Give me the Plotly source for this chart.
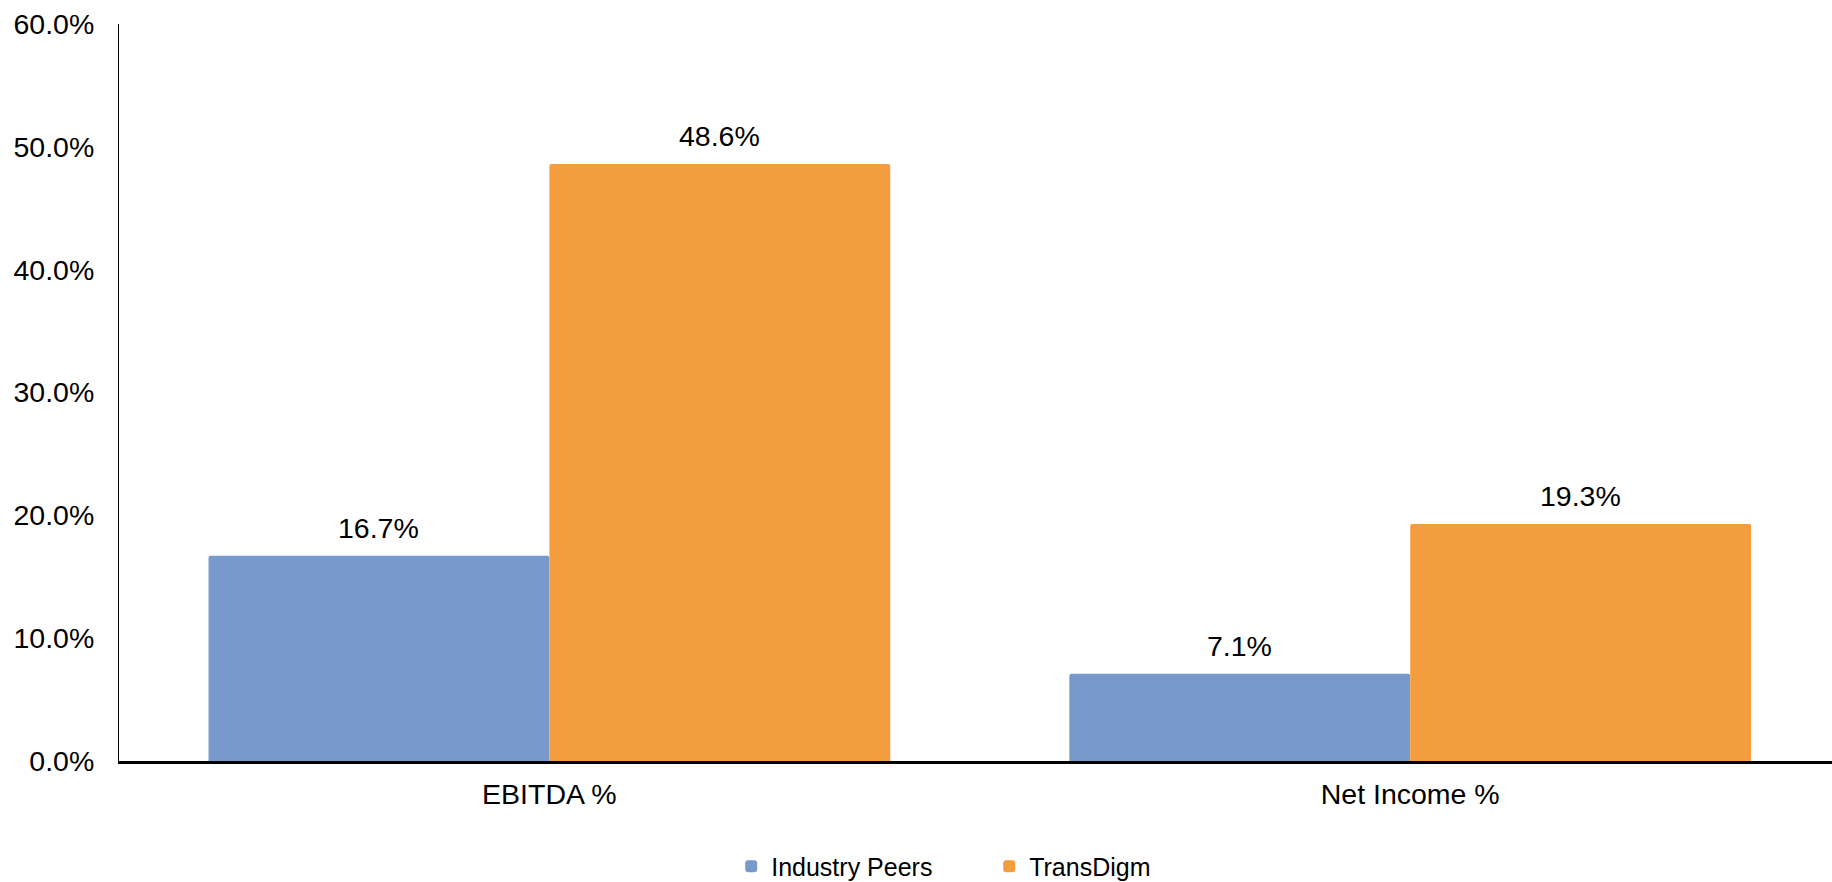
import plotly.graph_objects as go

categories = ["EBITDA %", "Net Income %"]
series_names = ["Industry Peers", "TransDigm"]
industry_peers = [16.7, 7.1]
transdigm = [48.6, 19.3]
y_ticks = [0, 10, 20, 30, 40, 50, 60]
y_tick_labels = ["0.0%", "10.0%", "20.0%", "30.0%", "40.0%", "50.0%", "60.0%"]

colors = ["#7799CC", "#F49D3E"]
FONT = "Liberation Sans, Arial, Helvetica, sans-serif"
FS = 28.5
BARGAP = 0.208

fig = go.Figure()
for name, vals, col in zip(series_names, [industry_peers, transdigm], colors):
    fig.add_trace(go.Bar(
        x=categories, y=vals, name=name,
        marker=dict(color=col, line=dict(width=0), cornerradius=2),
        hoverinfo="x+y+name",
    ))

# value labels above bars
offset = (1 - BARGAP) / 4
for si, vals in enumerate([industry_peers, transdigm]):
    for ci, v in enumerate(vals):
        fig.add_annotation(
            x=ci + (-offset if si == 0 else offset), y=v,
            xref="x", yref="y", text=f"{v:.1f}%",
            showarrow=False, yanchor="bottom", yshift=10,
            font=dict(family=FONT, size=FS, color="#000000"),
        )

fig.update_layout(
    width=1832, height=882,
    margin=dict(l=119, r=0, t=24, b=121, autoexpand=False),
    paper_bgcolor="white", plot_bgcolor="white",
    barmode="group", bargap=BARGAP, bargroupgap=0,
    font=dict(family=FONT, size=FS, color="#000000"),
    showlegend=True,
    legend=dict(
        orientation="h", x=0.508, xanchor="center", y=-0.143, yanchor="middle",
        font=dict(family=FONT, size=25, color="#000000"),
        bgcolor="rgba(0,0,0,0)", entrywidth=213,
    ),
)
fig.update_xaxes(
    type="category", range=[-0.5, 1.49],
    showline=True, linecolor="#000000", linewidth=3,
    showgrid=False, zeroline=False,
    ticks="outside", ticklen=6, tickcolor="rgba(0,0,0,0)",
    tickfont=dict(family=FONT, size=FS, color="#000000"),
)
fig.update_yaxes(
    range=[0, 60], tickvals=y_ticks, ticktext=y_tick_labels,
    showline=True, linecolor="#000000", linewidth=1,
    showgrid=False, zeroline=False,
    ticks="outside", ticklen=18, tickcolor="rgba(0,0,0,0)",
    tickfont=dict(family=FONT, size=FS, color="#000000"),
)

fig.write_html(
    "out.html",
    config={"displayModeBar": False},
    post_script="document.body.style.margin='0';document.body.style.overflow='hidden';",
)
